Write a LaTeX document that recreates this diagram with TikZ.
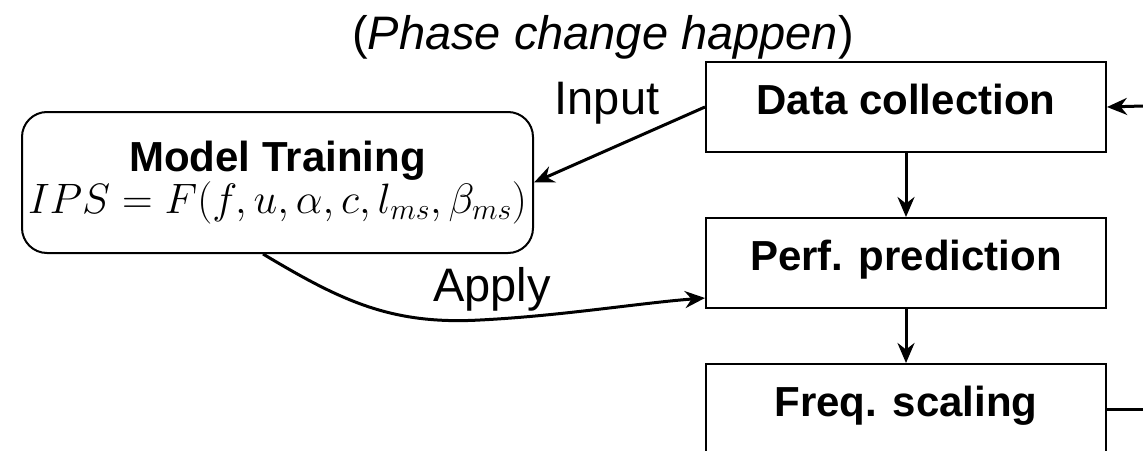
\RequirePackage{fix-cm}
\documentclass[tikz,border=0pt]{standalone}
\usepackage{fontspec}
\setmainfont{Liberation Sans}
\usetikzlibrary{arrows.meta,calc}
\newcommand{\lift}[1]{\raisebox{8pt}[\height][\depth]{#1}}
\begin{document}
\begin{tikzpicture}[x=1pt,y=-1pt,
  stepbox/.style={draw,line width=2pt,minimum width=400pt,minimum height=90pt,anchor=north,
    font=\fontsize{42}{48}\selectfont\bfseries,inner sep=0pt,text depth=0pt},
  modelbox/.style={draw,line width=2pt,rounded corners=25pt,minimum width=511pt,minimum height=141pt,
    inner sep=0pt,align=center},
  lbl/.style={font=\fontsize{47}{54}\selectfont,inner sep=0pt},
  arr/.style={line width=3pt,-{Stealth[length=20pt,width=17pt]}},
  ln/.style={line width=3pt}]
\clip (0,0) rectangle (1143,450);
\node[stepbox] (data) at (906,61) {\lift{Data collection}};
\node[stepbox] (perf) at (906,217) {\lift{Perf. prediction}};
\node[stepbox] (freq) at (906,363) {\lift{Freq. scaling}};
\node[modelbox] (model) at (277.5,182.5) {{\fontsize{42}{48}\selectfont\bfseries Model Training}\\[0pt]
  {\fontsize{42.5}{50}\selectfont$IPS=F(f,u,\alpha,c,l_{ms},\beta_{ms})$}};
\node[lbl] (phase) at (603,37) {(\textit{Phase change happen})};
\node[lbl] (input) at (607,103) {Input};
\node[lbl] (apply) at (492,289) {Apply};
\coordinate (inR) at (1143,106);
\coordinate (outR) at (1143,409);
\draw[arr] (data.south) -- (perf.north);
\draw[arr] (perf.south) -- (freq.north);
\draw[arr] (data.west) -- (model.east);
\draw[arr] (inR) -- (data.east);
\draw[ln] (freq.east |- outR) -- (outR);
\draw[arr] ([xshift=-14.5pt]model.south) .. controls (340,300) and (390,325) .. (480,320) .. controls (560,316) and (640,303) .. ([yshift=-35pt]perf.west);
\end{tikzpicture}
\end{document}
